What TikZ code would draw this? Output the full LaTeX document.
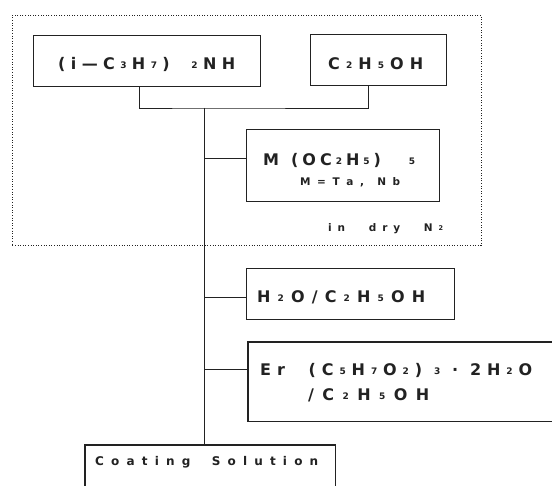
\documentclass[tikz,border=0pt]{standalone}
\usepackage{fontspec}
\setmainfont{DejaVu Sans}
\definecolor{ink}{HTML}{222222}
% spread a list of glyphs evenly over a given width
\def\spstop{}
\def\spsent{\spstop}
\newcommand\spread[2]{\hbox to #1{\spfirst#2\spstop}}
\def\spfirst#1{#1\spnext}
\def\spnext#1{\def\sptmp{#1}\ifx\sptmp\spsent\else\hfil#1\expandafter\spnext\fi}
\newcommand\smd[1]{\raisebox{1.5pt}{\fontsize{9}{9}\selectfont #1}}
\newcommand\smdd[1]{\raisebox{1pt}{\fontsize{6.5}{6.5}\selectfont #1}}
\begin{document}
\begin{tikzpicture}[x=1pt,y=-1pt,
  boxline/.style={draw=ink, line width=1.1pt},
  stepbox/.style={boxline, anchor=north west, inner sep=0pt},
  openbox/.style={anchor=north west, inner sep=0pt},
  conn/.style={draw=ink, line width=0.8pt},
  frame/.style={draw=ink, line width=0.8pt, dash pattern=on 1pt off 1.6pt, anchor=north west, inner sep=0pt},
  big/.style={text=ink, anchor=base west, inner sep=0pt, font=\fontsize{16}{16}\selectfont\bfseries},
  small/.style={text=ink, anchor=base west, inner sep=0pt, font=\fontsize{10.5}{10.5}\selectfont\bfseries},
  mid/.style={text=ink, anchor=base west, inner sep=0pt, font=\fontsize{12}{12}\selectfont\bfseries}]
\useasboundingbox (0,0) rectangle (552,486);
\fill[white] (0,0) rectangle (552,486);

% dotted enclosure
\node[frame, minimum width=469pt, minimum height=230pt] (frame) at (12,15) {};

% boxes
\node[stepbox, minimum width=227pt, minimum height=51pt] (b1) at (33,35) {};
\node[stepbox, minimum width=136pt, minimum height=51pt] (b2) at (310,34) {};
\node[stepbox, minimum width=193pt, minimum height=72pt] (b3) at (246,129) {};
\node[stepbox, minimum width=208pt, minimum height=51pt] (b4) at (246,268) {};
\node[openbox, minimum width=304pt, minimum height=79pt] (b5) at (248,342) {};
\draw[boxline] (b5.north east) -- (b5.north west) -- (b5.south west) -- (b5.south east);
\node[openbox, minimum width=250pt, minimum height=41pt] (cs) at (85,445) {};
\draw[boxline] (cs.south west) -- (cs.north west) -- (cs.north east) -- (cs.south east);

% texts
\node[big] (t1) at (58,69.8) {\spread{177pt}{( i — C {\smd3} H {\smd7} ) {} {} {} {\smd2} N H}};
\node[big] (t2) at (328,69.8) {\spread{95pt}{C {\smd2} H {\smd5} O H}};
\node[big] (t3a) at (263,165.8) {\spread{152pt}{M {} {} ( O C {\smd2} H {\smd5} ) {} {} {} {} {} {} {\smd5}}};
\node[small] (t3b) at (300,185.8) {\spread{100pt}{M = T a , {} N b}};
\node[small] (tdry) at (328,231.8) {\spread{115pt}{i n {} {} {} d r y {} {} {} N {\smdd2}}};
\node[big] (t4) at (257,302.8) {\spread{168pt}{H {\smd2} O / C {\smd2} H {\smd5} O H}};
\node[big] (t5a) at (260,375.8) {\spread{272pt}{E r {} {} {} ( C {\smd5} H {\smd7} O {\smd2} ) {} {\smd3} {} · {} 2 H {\smd2} O}};
\node[big] (t5b) at (308,400.8) {\spread{121pt}{/ C {\smd2} H {\smd5} O H}};
\node[mid] (tcs) at (95,465.3) {\spread{223pt}{C o a t i n g {} {} S o l u t i o n}};

% connectors
\coordinate (j) at (204,108);
\coordinate (p3) at ([yshift=7pt]b3.west);
\coordinate (p4) at ([yshift=-3.5pt]b4.west);
\coordinate (p5) at ([yshift=12.5pt]b5.west);
\draw[conn] ([xshift=-7.5pt]b1.south) |- (j) -| ([xshift=-10pt]b2.south);
\draw[conn] (j) -- (j |- cs.north);
\draw[conn] (j |- p3) -- (p3);
\draw[conn] (j |- p4) -- (p4);
\draw[conn] (j |- p5) -- (p5);
\end{tikzpicture}
\end{document}
